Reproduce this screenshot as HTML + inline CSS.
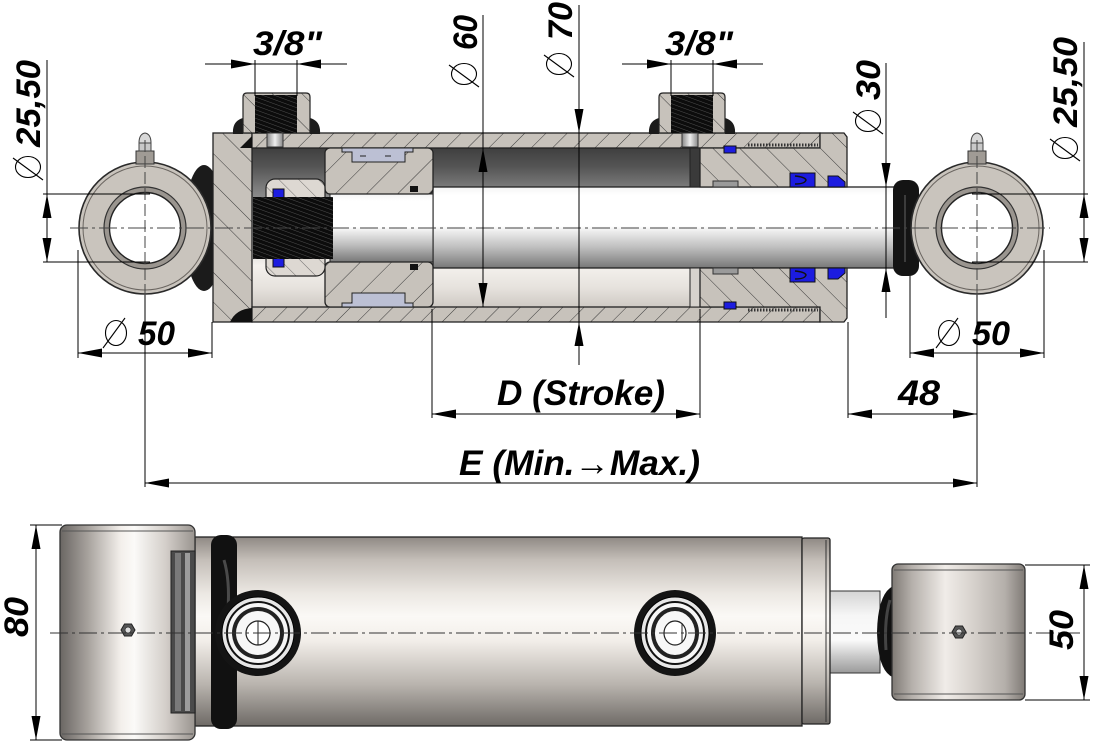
<!DOCTYPE html>
<html><head><meta charset="utf-8">
<style>
html,body{margin:0;padding:0;background:#fff;}
svg{display:block;}
text{font-family:"Liberation Sans Narrow","Liberation Sans",sans-serif;font-weight:bold;font-style:italic;fill:#000;}
</style></head><body>
<svg width="1100" height="751" viewBox="0 0 1100 751" xmlns="http://www.w3.org/2000/svg">
<defs>
 <pattern id="hA" patternUnits="userSpaceOnUse" width="15" height="15" patternTransform="rotate(45)">
  <rect width="15" height="15" fill="#c7c2bb"/><line x1="0" y1="0" x2="0" y2="15" stroke="#3a3a3a" stroke-width="1"/></pattern>
 <pattern id="hB" patternUnits="userSpaceOnUse" width="21" height="21" patternTransform="rotate(-45)">
  <rect width="21" height="21" fill="#c7c2bb"/><line x1="0" y1="0" x2="0" y2="21" stroke="#3a3a3a" stroke-width="1"/></pattern>
 <pattern id="hC" patternUnits="userSpaceOnUse" width="19" height="19" patternTransform="rotate(-45)">
  <rect width="19" height="19" fill="#c7c2bb"/><line x1="0" y1="0" x2="0" y2="19" stroke="#3a3a3a" stroke-width="1"/></pattern>
 <pattern id="hP" patternUnits="userSpaceOnUse" width="22" height="22" patternTransform="rotate(45)">
  <rect width="22" height="22" fill="#c7c2bb"/><line x1="0" y1="0" x2="0" y2="22" stroke="#3a3a3a" stroke-width="1"/></pattern>
 <pattern id="hN" patternUnits="userSpaceOnUse" width="14" height="14" patternTransform="rotate(-45)">
  <rect width="14" height="14" fill="#ddd8d2"/><line x1="0" y1="0" x2="0" y2="14" stroke="#555" stroke-width="0.8"/></pattern>
 <pattern id="thr" patternUnits="userSpaceOnUse" width="4" height="4" patternTransform="rotate(-70)">
  <rect width="4" height="4" fill="#0c0c0c"/><line x1="0" y1="0" x2="0" y2="4" stroke="#6a6a6a" stroke-width="0.7"/></pattern>
 <linearGradient id="gCh" x1="0" y1="0" x2="0" y2="1">
  <stop offset="0" stop-color="#3f3f3f"/><stop offset="0.12" stop-color="#555"/><stop offset="0.25" stop-color="#7c7c7c"/>
  <stop offset="0.5" stop-color="#bbb"/><stop offset="0.74" stop-color="#f4f1ed"/><stop offset="0.88" stop-color="#e6e2dd"/><stop offset="1" stop-color="#cfcac4"/>
 </linearGradient>
 <linearGradient id="gRod" x1="0" y1="0" x2="0" y2="1">
  <stop offset="0" stop-color="#f4f4f4"/><stop offset="0.1" stop-color="#fff"/><stop offset="0.48" stop-color="#fff"/>
  <stop offset="0.55" stop-color="#ececec"/><stop offset="0.75" stop-color="#bdbdbd"/><stop offset="0.92" stop-color="#8e8e8e"/><stop offset="1" stop-color="#777"/>
 </linearGradient>
 <linearGradient id="gHole" x1="0" y1="0" x2="1" y2="0">
  <stop offset="0" stop-color="#888"/><stop offset="0.5" stop-color="#eee"/><stop offset="1" stop-color="#888"/>
 </linearGradient>
 <linearGradient id="gTube" x1="0" y1="0" x2="0" y2="1">
  <stop offset="0" stop-color="#8f8984"/><stop offset="0.12" stop-color="#c4beb8"/><stop offset="0.3" stop-color="#ece8e3"/>
  <stop offset="0.42" stop-color="#fbf9f6"/><stop offset="0.55" stop-color="#f2eee9"/><stop offset="0.78" stop-color="#b9b4ae"/><stop offset="1" stop-color="#6e6a66"/>
 </linearGradient>
 <linearGradient id="gEyeL" x1="0" y1="0" x2="1" y2="0">
  <stop offset="0" stop-color="#6a6663"/><stop offset="0.2" stop-color="#a5a09b"/><stop offset="0.45" stop-color="#f3efeb"/>
  <stop offset="0.55" stop-color="#fbfaf8"/><stop offset="0.78" stop-color="#d4cfca"/><stop offset="1" stop-color="#99948f"/>
 </linearGradient>
 <linearGradient id="gEyeR" x1="0" y1="0" x2="1" y2="0">
  <stop offset="0" stop-color="#7f7a75"/><stop offset="0.15" stop-color="#b5b0ab"/><stop offset="0.4" stop-color="#f0ece8"/>
  <stop offset="0.6" stop-color="#d8d3ce"/><stop offset="0.85" stop-color="#b4afaa"/><stop offset="1" stop-color="#7f7a75"/>
 </linearGradient>
 <linearGradient id="gRodB" x1="0" y1="0" x2="0" y2="1">
  <stop offset="0" stop-color="#d4d4d4"/><stop offset="0.3" stop-color="#f6f6f6"/><stop offset="0.6" stop-color="#fafafa"/>
  <stop offset="0.8" stop-color="#c8c8c8"/><stop offset="1" stop-color="#9a9a9a"/>
 </linearGradient>
</defs>

<!-- ================= TOP VIEW ================= -->
<!-- weld behind left eye -->
<ellipse cx="204" cy="228" rx="20" ry="63" fill="#1b1b1b"/>
<!-- left eye -->
<circle cx="145" cy="228" r="66" fill="#c9c4bd" stroke="#2a2a2a" stroke-width="1.6"/>
<circle cx="145" cy="228" r="62" fill="none" stroke="#6a6560" stroke-width="1"/>
<circle cx="145" cy="228" r="41" fill="#9a958f" stroke="#333" stroke-width="1.2"/>
<circle cx="145" cy="228" r="35.5" fill="#fff" stroke="#222" stroke-width="1.4"/>
<!-- grease nipple left -->
<rect x="136" y="151" width="18" height="13" fill="#a09b95" stroke="#333"/>
<rect x="139" y="143" width="12" height="8" fill="#c8c8c8" stroke="#444"/>
<path d="M139 143 Q139 134 145 133 Q151 134 151 143 Z" fill="#d8d8d8" stroke="#444"/>

<!-- chambers -->
<rect x="252" y="148" width="448" height="159" fill="url(#gCh)"/>
<!-- end cap -->
<rect x="213" y="133" width="39" height="189" fill="url(#hB)" stroke="#222" stroke-width="1.3"/>
<!-- tube walls -->
<rect x="252" y="133" width="568" height="15" fill="url(#hA)" stroke="#222" stroke-width="1.3"/>
<rect x="252" y="307" width="568" height="15" fill="url(#hA)" stroke="#222" stroke-width="1.3"/>
<path d="M240 148 L252 136 L252 148 Z" fill="#111"/>
<path d="M230 322 Q236 309 252 308 L252 322 Z" fill="#111"/>

<!-- ports -->
<path d="M243 118 Q232 121 233 134 L243 134 Z" fill="#1b1b1b"/>
<path d="M310 118 Q321 121 320 134 L310 134 Z" fill="#1b1b1b"/>
<path d="M243 133 V97 Q243 93 247 93 H306 Q310 93 310 97 V133 Z" fill="url(#hB)" stroke="#222" stroke-width="1.2"/>
<rect x="255" y="95" width="42" height="38" fill="url(#thr)"/>
<rect x="267" y="133" width="16" height="14" fill="url(#gHole)" stroke="#333"/>
<path d="M659 118 Q648 121 649 134 L659 134 Z" fill="#1b1b1b"/>
<path d="M725 118 Q736 121 735 134 L725 134 Z" fill="#1b1b1b"/>
<path d="M659 133 V97 Q659 93 663 93 H721 Q725 93 725 97 V133 Z" fill="url(#hB)" stroke="#222" stroke-width="1.2"/>
<rect x="671" y="95" width="42" height="38" fill="url(#thr)"/>
<rect x="682" y="133" width="16" height="14" fill="url(#gHole)" stroke="#333"/>

<!-- rod -->
<rect x="433" y="187" width="462" height="81" fill="url(#gRod)" stroke="#222" stroke-width="1.3"/>
<rect x="330" y="194" width="103" height="68" fill="url(#gRod)" stroke="#222" stroke-width="1"/>

<!-- piston -->
<rect x="325" y="148" width="108" height="46" rx="5" fill="url(#hP)" stroke="#222" stroke-width="1.3"/>
<rect x="325" y="262" width="108" height="45" rx="5" fill="url(#hP)" stroke="#222" stroke-width="1.3"/>
<path d="M342 148 H413 V152 H405 V162 H352 V152 H342 Z" fill="#bcc0d4" stroke="#222"/>
<path d="M342 307 H413 V303 H405 V293 H352 V303 H342 Z" fill="#bcc0d4" stroke="#222"/>
<line x1="360" y1="156" x2="366" y2="156" stroke="#222"/><line x1="385" y1="156" x2="391" y2="156" stroke="#222"/>
<rect x="410" y="186" width="8" height="6" fill="#111"/>
<rect x="410" y="264" width="8" height="6" fill="#111"/>

<!-- nut -->
<rect x="266" y="179" width="59" height="97" rx="9" fill="url(#hN)" stroke="#222" stroke-width="1.2"/>
<rect x="273" y="189" width="11" height="9" fill="#1c1ce0" stroke="#111"/>
<rect x="273" y="258" width="11" height="9" fill="#1c1ce0" stroke="#111"/>
<!-- thread -->
<rect x="253" y="197" width="80" height="62" fill="url(#thr)"/>

<!-- gland -->
<rect x="690" y="148" width="10" height="39" fill="#3a3a3a" stroke="#222"/>
<rect x="690" y="268" width="10" height="39" fill="#d6d2cd" stroke="#222"/>
<path d="M700 148 H820 V133 H844 L847 137 V187 H700 Z" fill="url(#hC)" stroke="#222" stroke-width="1.3"/>
<path d="M700 307 H820 V322 H844 L847 318 V268 H700 Z" fill="url(#hC)" stroke="#222" stroke-width="1.3"/>
<line x1="748" y1="145" x2="818" y2="145" stroke="#333" stroke-width="3" stroke-dasharray="1.5 1.5"/>
<line x1="748" y1="310" x2="818" y2="310" stroke="#333" stroke-width="3" stroke-dasharray="1.5 1.5"/>
<rect x="713" y="181" width="25" height="6" fill="#9a9a9a" stroke="#333"/>
<rect x="713" y="268" width="25" height="6" fill="#9a9a9a" stroke="#333"/>
<rect x="724" y="146" width="12" height="7" fill="#1c1ce0" stroke="#111"/>
<rect x="724" y="302" width="12" height="7" fill="#1c1ce0" stroke="#111"/>
<rect x="790" y="173" width="25" height="14" fill="#1c1ce0" stroke="#111"/>
<path d="M795 176 Q805 177 806 180 Q805 184 795 184" fill="none" stroke="#111" stroke-width="1.5"/>
<rect x="790" y="268" width="25" height="14" fill="#1c1ce0" stroke="#111"/>
<path d="M795 271 Q805 272 806 275 Q805 279 795 279" fill="none" stroke="#111" stroke-width="1.5"/>
<path d="M828 187 V176 H838 L845 182 V187 Z" fill="#1c1ce0" stroke="#111"/>
<path d="M828 268 V279 H838 L845 273 V268 Z" fill="#1c1ce0" stroke="#111"/>

<!-- wiper -->
<rect x="893" y="180" width="26" height="96" rx="10" fill="#141414"/>
<line x1="905" y1="195" x2="905" y2="262" stroke="#3c3c3c" stroke-width="2"/>
<!-- right eye -->
<circle cx="977" cy="228" r="66" fill="#c9c4bd" stroke="#2a2a2a" stroke-width="1.6"/>
<circle cx="977" cy="228" r="62" fill="none" stroke="#6a6560" stroke-width="1"/>
<circle cx="977" cy="228" r="41" fill="#9a958f" stroke="#333" stroke-width="1.2"/>
<circle cx="977" cy="228" r="35.5" fill="#fff" stroke="#222" stroke-width="1.4"/>
<rect x="968" y="151" width="18" height="13" fill="#a09b95" stroke="#333"/>
<rect x="971" y="143" width="12" height="8" fill="#c8c8c8" stroke="#444"/>
<path d="M971 143 Q971 134 977 133 Q983 134 983 143 Z" fill="#d8d8d8" stroke="#444"/>

<!-- centerlines top -->
<line x1="70" y1="228" x2="1050" y2="228" stroke="#444" stroke-width="1" stroke-dasharray="18 4 3 4"/>
<line x1="145" y1="140" x2="145" y2="300" stroke="#444" stroke-width="1" stroke-dasharray="12 4"/>
<line x1="977" y1="140" x2="977" y2="300" stroke="#444" stroke-width="1" stroke-dasharray="12 4"/>

<!-- ================= DIMENSIONS TOP ================= -->
<g stroke="#000" stroke-width="1" fill="none">
 <line x1="47" y1="60" x2="47" y2="262"/>
 <line x1="43" y1="194" x2="150" y2="194"/><line x1="43" y1="262" x2="150" y2="262"/>
 <line x1="1084" y1="42" x2="1084" y2="262"/>
 <line x1="972" y1="194" x2="1088" y2="194"/><line x1="972" y1="262" x2="1088" y2="262"/>
 <line x1="78" y1="353" x2="212" y2="353"/>
 <line x1="78" y1="250" x2="78" y2="358"/><line x1="212" y1="322" x2="212" y2="358"/>
 <line x1="910" y1="353" x2="1044" y2="353"/>
 <line x1="910" y1="276" x2="910" y2="358"/><line x1="1044" y1="250" x2="1044" y2="358"/>
 <line x1="483" y1="15" x2="483" y2="307"/>
 <line x1="579" y1="5" x2="579" y2="365"/>
 <line x1="886" y1="63" x2="886" y2="318"/>
 <line x1="205" y1="64" x2="347" y2="64"/>
 <line x1="255" y1="60" x2="255" y2="96"/><line x1="297" y1="60" x2="297" y2="96"/>
 <line x1="622" y1="64" x2="763" y2="64"/>
 <line x1="671" y1="60" x2="671" y2="96"/><line x1="713" y1="60" x2="713" y2="96"/>
 <line x1="432" y1="309" x2="432" y2="418"/><line x1="700" y1="309" x2="700" y2="418"/>
 <line x1="432" y1="414" x2="700" y2="414"/>
 <line x1="848" y1="322" x2="848" y2="418"/>
 <line x1="848" y1="414" x2="977" y2="414"/>
 <line x1="145" y1="295" x2="145" y2="487"/><line x1="977" y1="295" x2="977" y2="487"/>
 <line x1="145" y1="483" x2="977" y2="483"/>
</g>
<g fill="#000">
 <!-- 25,50 left -->
 <polygon points="47,194 42.5,218 51.5,218"/><polygon points="47,262 42.5,238 51.5,238"/>
 <polygon points="1084,194 1079.5,218 1088.5,218"/><polygon points="1084,262 1079.5,238 1088.5,238"/>
 <!-- 50 horizontals -->
 <polygon points="78,353 102,348.5 102,357.5"/><polygon points="212,353 188,348.5 188,357.5"/>
 <polygon points="910,353 934,348.5 934,357.5"/><polygon points="1044,353 1020,348.5 1020,357.5"/>
 <!-- 60 -->
 <polygon points="483,148 478.5,172 487.5,172"/><polygon points="483,307 478.5,283 487.5,283"/>
 <!-- 70 -->
 <polygon points="579,133 574.5,109 583.5,109"/><polygon points="579,322 574.5,346 583.5,346"/>
 <!-- 30 -->
 <polygon points="886,187 881.5,163 890.5,163"/><polygon points="886,268 881.5,292 890.5,292"/>
 <!-- 3/8 -->
 <polygon points="255,64 231,59.5 231,68.5"/><polygon points="297,64 321,59.5 321,68.5"/>
 <polygon points="671,64 647,59.5 647,68.5"/><polygon points="713,64 737,59.5 737,68.5"/>
 <!-- D -->
 <polygon points="432,414 456,409.5 456,418.5"/><polygon points="700,414 676,409.5 676,418.5"/>
 <!-- 48 -->
 <polygon points="848,414 872,409.5 872,418.5"/><polygon points="977,414 953,409.5 953,418.5"/>
 <!-- E -->
 <polygon points="145,483 169,478.5 169,487.5"/><polygon points="977,483 953,478.5 953,487.5"/>
</g>

<!-- diameter symbols -->
<g fill="none" stroke="#000" stroke-width="1.1">
 <g transform="translate(116,333)"><ellipse rx="10.5" ry="12.5"/><line x1="-13" y1="15" x2="9" y2="-15"/></g>
 <g transform="translate(949,333)"><ellipse rx="10.5" ry="12.5"/><line x1="-13" y1="15" x2="9" y2="-15"/></g>
 <g transform="translate(28,167) rotate(-90)"><ellipse rx="10.5" ry="12.5"/><line x1="-13" y1="15" x2="9" y2="-15"/></g>
 <g transform="translate(1065,148) rotate(-90)"><ellipse rx="10.5" ry="12.5"/><line x1="-13" y1="15" x2="9" y2="-15"/></g>
 <g transform="translate(868,121) rotate(-90)"><ellipse rx="10.5" ry="12.5"/><line x1="-13" y1="15" x2="9" y2="-15"/></g>
 <g transform="translate(464,74) rotate(-90)"><ellipse rx="10.5" ry="12.5"/><line x1="-13" y1="15" x2="9" y2="-15"/></g>
 <g transform="translate(559,64) rotate(-90)"><ellipse rx="10.5" ry="12.5"/><line x1="-13" y1="15" x2="9" y2="-15"/></g>
</g>

<!-- labels -->
<text x="253" y="55" font-size="34" textLength="69" lengthAdjust="spacingAndGlyphs">3/8&quot;</text>
<text x="665" y="55" font-size="34" textLength="68" lengthAdjust="spacingAndGlyphs">3/8&quot;</text>
<text x="497" y="405" font-size="35" textLength="168" lengthAdjust="spacingAndGlyphs">D (Stroke)</text>
<text x="898" y="405" font-size="35" textLength="42" lengthAdjust="spacingAndGlyphs">48</text>
<text x="459" y="475" font-size="35" textLength="241" lengthAdjust="spacingAndGlyphs">E (Min.→Max.)</text>
<text x="138" y="345" font-size="34" textLength="37" lengthAdjust="spacingAndGlyphs">50</text>
<text x="972" y="345" font-size="34" textLength="38" lengthAdjust="spacingAndGlyphs">50</text>
<text transform="translate(40,147) rotate(-90)" font-size="34" textLength="87" lengthAdjust="spacingAndGlyphs">25,50</text>
<text transform="translate(1077,127) rotate(-90)" font-size="34" textLength="90" lengthAdjust="spacingAndGlyphs">25,50</text>
<text transform="translate(880,100) rotate(-90)" font-size="34" textLength="40" lengthAdjust="spacingAndGlyphs">30</text>
<text transform="translate(477,50) rotate(-90)" font-size="34" textLength="35" lengthAdjust="spacingAndGlyphs">60</text>
<text transform="translate(572,40) rotate(-90)" font-size="34" textLength="38" lengthAdjust="spacingAndGlyphs">70</text>

<!-- ================= BOTTOM VIEW ================= -->
<!-- rod -->
<rect x="830" y="591" width="50" height="82" fill="url(#gRodB)" stroke="#333" stroke-width="1"/>
<!-- tube -->
<rect x="195" y="537" width="607" height="189" fill="url(#gTube)" stroke="#222" stroke-width="1.3"/>
<rect x="802" y="538" width="28" height="186" rx="2" fill="url(#gTube)" stroke="#222" stroke-width="1.3"/>
<line x1="826" y1="540" x2="826" y2="722" stroke="#333" stroke-width="1"/>
<!-- weld band -->
<rect x="211" y="535" width="26" height="194" rx="10" fill="#111"/>
<path d="M224 560 Q230 580 228 610" stroke="#4a4a4a" stroke-width="3" fill="none"/>
<!-- left eye side -->
<rect x="60" y="525" width="135" height="215" rx="7" fill="url(#gEyeL)" stroke="#333" stroke-width="1.3"/>
<line x1="62" y1="531" x2="193" y2="531" stroke="#555" stroke-width="1"/>
<line x1="62" y1="734" x2="193" y2="734" stroke="#555" stroke-width="1"/>
<rect x="171" y="551" width="24" height="162" fill="#4a4a4a" stroke="#222"/>
<rect x="175" y="553" width="6" height="158" fill="#7a7a7a"/>
<rect x="185" y="553" width="5" height="158" fill="#9c9c9c"/>
<polygon points="121,630 124.5,624 131.5,624 135,630 131.5,636 124.5,636" fill="#555" stroke="#222"/>
<circle cx="128" cy="630" r="3" fill="#ddd" stroke="#333" stroke-width="0.8"/>
<!-- left port -->
<circle cx="258" cy="633" r="43" fill="#141414"/>
<circle cx="258" cy="633" r="36" fill="#e6e6e6" stroke="#000" stroke-width="1"/>
<circle cx="258" cy="633" r="31" fill="#f6f6f6" stroke="#111" stroke-width="2"/>
<circle cx="258" cy="633" r="26" fill="#222"/>
<circle cx="258" cy="633" r="22" fill="#f7f7f7"/>
<circle cx="258" cy="633" r="12" fill="#fff" stroke="#222" stroke-width="1.2"/>
<line x1="258" y1="621" x2="258" y2="645" stroke="#222"/>
<!-- right port -->
<ellipse cx="675" cy="633" rx="41" ry="43" fill="#141414"/>
<ellipse cx="675" cy="633" rx="34" ry="36" fill="#e6e6e6" stroke="#000" stroke-width="1"/>
<ellipse cx="675" cy="633" rx="29" ry="31" fill="#f6f6f6" stroke="#111" stroke-width="2"/>
<ellipse cx="675" cy="633" rx="24" ry="26" fill="#222"/>
<ellipse cx="675" cy="633" rx="20" ry="22" fill="#f7f7f7"/>
<ellipse cx="675" cy="633" rx="11" ry="12" fill="#fff" stroke="#222" stroke-width="1.2"/>
<line x1="682" y1="623" x2="682" y2="643" stroke="#222"/>
<!-- wiper -->
<path d="M896 585 Q878 590 877 632 Q878 675 896 678 Z" fill="#111"/>
<path d="M890 600 Q884 620 886 650" stroke="#444" stroke-width="3" fill="none"/>
<!-- right eye side -->
<rect x="892" y="564" width="133" height="136" rx="6" fill="url(#gEyeR)" stroke="#333" stroke-width="1.3"/>
<line x1="894" y1="570" x2="1023" y2="570" stroke="#555" stroke-width="1"/>
<line x1="894" y1="694" x2="1023" y2="694" stroke="#555" stroke-width="1"/>
<polygon points="952,632 955.5,626 962.5,626 966,632 962.5,638 955.5,638" fill="#555" stroke="#222"/>
<circle cx="959" cy="632" r="3" fill="#ddd" stroke="#333" stroke-width="0.8"/>

<!-- bottom centerline -->
<line x1="50" y1="633" x2="1080" y2="633" stroke="#333" stroke-width="1" stroke-dasharray="18 4 3 4"/>

<!-- bottom dims -->
<g stroke="#000" stroke-width="1">
 <line x1="36" y1="525" x2="36" y2="740"/>
 <line x1="30" y1="525" x2="62" y2="525"/><line x1="30" y1="740" x2="62" y2="740"/>
 <line x1="1084" y1="565" x2="1084" y2="700"/>
 <line x1="1025" y1="565" x2="1090" y2="565"/><line x1="1025" y1="700" x2="1090" y2="700"/>
</g>
<g fill="#000">
 <polygon points="36,525 31.5,549 40.5,549"/><polygon points="36,740 31.5,716 40.5,716"/>
 <polygon points="1084,565 1079.5,589 1088.5,589"/><polygon points="1084,700 1079.5,676 1088.5,676"/>
</g>
<text transform="translate(28,637) rotate(-90)" font-size="34" textLength="40" lengthAdjust="spacingAndGlyphs">80</text>
<text transform="translate(1073,650) rotate(-90)" font-size="34" textLength="40" lengthAdjust="spacingAndGlyphs">50</text>
</svg>
</body></html>
